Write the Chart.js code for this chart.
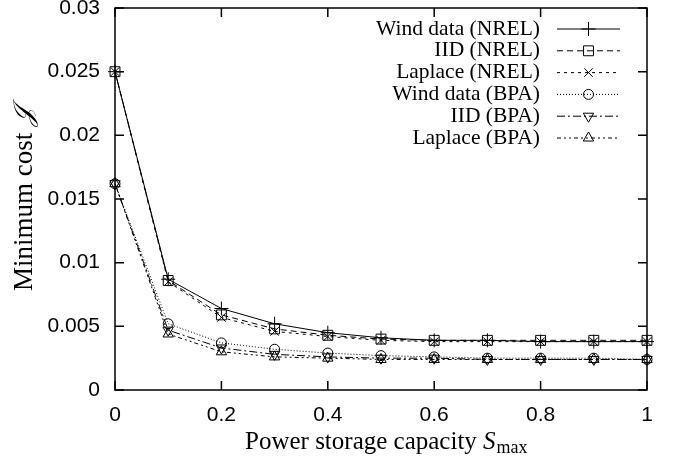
<!DOCTYPE html>
<html>
<head>
<meta charset="utf-8">
<script src="https://cdn.jsdelivr.net/npm/chart.js@4/dist/chart.umd.min.js"></script>
<style>
  html, body { margin: 0; padding: 0; background: #fff; }
  #wrap { width: 674px; height: 464px; }
</style>
</head>
<body>
<div id="wrap"><canvas id="costChart" width="674" height="464"></canvas></div>
<script>
// storage capacity S_max (x) and minimum cost J (y)
const storageCaps = [0, 0.1, 0.2, 0.3, 0.4, 0.5, 0.6, 0.7, 0.8, 0.9, 1.0];
const windNREL    = [0.0250, 0.0087, 0.0064, 0.0052, 0.0045, 0.0041, 0.0039, 0.0039, 0.0038, 0.0038, 0.0038];
const iidNREL     = [0.0250, 0.0086, 0.0059, 0.0048, 0.0043, 0.0040, 0.0039, 0.0039, 0.0039, 0.0039, 0.0039];
const laplaceNREL = [0.0250, 0.0085, 0.0057, 0.0046, 0.0042, 0.0039, 0.0038, 0.0038, 0.0038, 0.0038, 0.0038];
const windBPA     = [0.0162, 0.0052, 0.0037, 0.0032, 0.0029, 0.0027, 0.0026, 0.0025, 0.0025, 0.0025, 0.0024];
const iidBPA      = [0.0162, 0.0047, 0.0033, 0.0028, 0.0026, 0.0025, 0.0025, 0.0024, 0.0024, 0.0024, 0.0024];
const laplaceBPA  = [0.0162, 0.0044, 0.0030, 0.0026, 0.0025, 0.0024, 0.0024, 0.0024, 0.0024, 0.0024, 0.0024];

const seriesNames = ["Wind data (NREL)", "IID (NREL)", "Laplace (NREL)", "Wind data (BPA)", "IID (BPA)", "Laplace (BPA)"];
const xTicks = [0, 0.2, 0.4, 0.6, 0.8, 1];
const yTicks = [0, 0.005, 0.01, 0.015, 0.02, 0.025, 0.03];

const serif = "'Liberation Serif', 'Times New Roman', serif";
const sans = "'Liberation Sans', Arial, sans-serif";

function toPoints(values) {
    return storageCaps.map((x, i) => ({ x: x, y: values[i] }));
}

function makeSet(label, values, dash, style, radius, rotation) {
    return {
        label: label,
        data: toPoints(values),
        borderColor: "#000",
        borderWidth: 1,
        borderDash: dash,
        pointStyle: style,
        pointRadius: radius,
        pointRotation: rotation || 0,
        pointBorderColor: "#000",
        pointBackgroundColor: "rgba(0,0,0,0)",
        pointBorderWidth: 1,
        fill: false,
        tension: 0,
        clip: false
    };
}

const datasets = [
    makeSet(seriesNames[0], windNREL, [], "cross", 7),
    makeSet(seriesNames[1], iidNREL, [6, 4], "rect", 7),
    makeSet(seriesNames[2], laplaceNREL, [3, 4], "crossRot", 6),
    makeSet(seriesNames[3], windBPA, [1, 2], "circle", 5),
    makeSet(seriesNames[4], iidBPA, [8, 3, 2, 3], "triangle", 6, 180),
    makeSet(seriesNames[5], laplaceBPA, [4, 3, 2, 3, 2, 3], "triangle", 6)
];

// frame with gnuplot style inward ticks on all four sides
const framePlugin = {
    id: "frame",
    afterDraw(chart) {
        const ctx = chart.ctx;
        const a = chart.chartArea;
        const xs = chart.scales.x, ys = chart.scales.y;
        const tl = 9;
        ctx.save();
        ctx.strokeStyle = "#000";
        ctx.lineWidth = 1.5;
        ctx.setLineDash([]);
        ctx.strokeRect(a.left, a.top, a.right - a.left, a.bottom - a.top);
        ctx.beginPath();
        xTicks.forEach(v => {
            const px = xs.getPixelForValue(v);
            ctx.moveTo(px, a.bottom); ctx.lineTo(px, a.bottom - tl);
            ctx.moveTo(px, a.top); ctx.lineTo(px, a.top + tl);
        });
        yTicks.forEach(v => {
            const py = ys.getPixelForValue(v);
            ctx.moveTo(a.left, py); ctx.lineTo(a.left + tl, py);
            ctx.moveTo(a.right, py); ctx.lineTo(a.right - tl, py);
        });
        ctx.stroke();

        // axis titles
        ctx.fillStyle = "#000";
        ctx.textBaseline = "alphabetic";
        // x title: Power storage capacity S_max
        const main = "Power storage capacity ";
        ctx.font = "25px " + serif;
        const w1 = ctx.measureText(main).width;
        ctx.font = "italic 25px " + serif;
        const w2 = ctx.measureText("S").width;
        const x0 = 245;
        const ty = 449;
        ctx.textAlign = "left";
        ctx.font = "25px " + serif;
        ctx.fillText(main, x0, ty);
        ctx.font = "italic 25px " + serif;
        ctx.fillText("S", x0 + w1, ty);
        ctx.font = "18px " + serif;
        ctx.fillText("max", x0 + w1 + w2 + 1, ty + 4);

        // y title: Minimum cost J
        ctx.textBaseline = "middle";
        ctx.translate(25, 199);
        ctx.rotate(-Math.PI / 2);
        ctx.font = "27px " + serif;
        const m1 = "Minimum cost ";
        const v1 = ctx.measureText(m1).width;
        ctx.font = "italic 27px " + serif;
        const v2 = ctx.measureText("\uD835\uDCA5").width;
        const s0 = -(v1 + v2) / 2;
        ctx.font = "27px " + serif;
        ctx.fillText(m1, s0, 0);
        ctx.font = "italic 27px " + serif;
        ctx.fillText("\uD835\uDCA5", s0 + v1, 0);
        ctx.restore();
    }
};

// legend inside the plot, text right aligned with the sample on its right
const legendPlugin = {
    id: "sideLegend",
    afterDatasetsDraw(chart) {
        const ctx = chart.ctx;
        const textRight = 540, lineLeft = 557, lineRight = 620;
        ctx.save();
        chart.data.datasets.forEach((ds, i) => {
            const y = 29 + i * 21.8;
            ctx.fillStyle = "#000";
            ctx.font = "21.5px " + serif;
            ctx.textAlign = "right";
            ctx.textBaseline = "middle";
            ctx.fillText(ds.label, textRight, y);
            ctx.strokeStyle = "#000";
            ctx.lineWidth = 1;
            ctx.setLineDash(ds.borderDash);
            ctx.beginPath();
            ctx.moveTo(lineLeft, y);
            ctx.lineTo(lineRight, y);
            ctx.stroke();
            ctx.setLineDash([]);
            ctx.fillStyle = "rgba(0,0,0,0)";
            if (Chart.helpers && Chart.helpers.drawPoint) {
                Chart.helpers.drawPoint(ctx, {
                    pointStyle: ds.pointStyle,
                    rotation: ds.pointRotation,
                    radius: ds.pointRadius,
                    borderWidth: 1
                }, (lineLeft + lineRight) / 2, y);
            }
        });
        ctx.restore();
    }
};

new Chart(document.getElementById("costChart"), {
    type: "line",
    data: { datasets: datasets },
    options: {
        responsive: false,
        animation: false,
        layout: { padding: { top: 7, right: 27, left: 0, bottom: 0 } },
        plugins: {
            legend: { display: false },
            tooltip: { enabled: false }
        },
        scales: {
            x: {
                type: "linear",
                min: 0,
                max: 1,
                grid: { display: false, drawTicks: false },
                border: { display: false },
                afterBuildTicks: s => { s.ticks = xTicks.map(v => ({ value: v })); },
                afterFit: s => { s.height = 74; s.paddingLeft = 0; s.paddingRight = 0; },
                ticks: {
                    color: "#000",
                    padding: 13,
                    maxRotation: 0,
                    font: { family: sans, size: 21 },
                    callback: v => String(v)
                }
            },
            y: {
                type: "linear",
                min: 0,
                max: 0.03,
                grid: { display: false, drawTicks: false },
                border: { display: false },
                afterBuildTicks: s => { s.ticks = yTicks.map(v => ({ value: v })); },
                afterFit: s => { s.width = 115; s.paddingTop = 0; s.paddingBottom = 0; },
                ticks: {
                    color: "#000",
                    padding: 15,
                    font: { family: sans, size: 21 },
                    callback: v => String(Number(v.toFixed(3)))
                }
            }
        }
    },
    plugins: [framePlugin, legendPlugin]
});
</script>
</body>
</html>
